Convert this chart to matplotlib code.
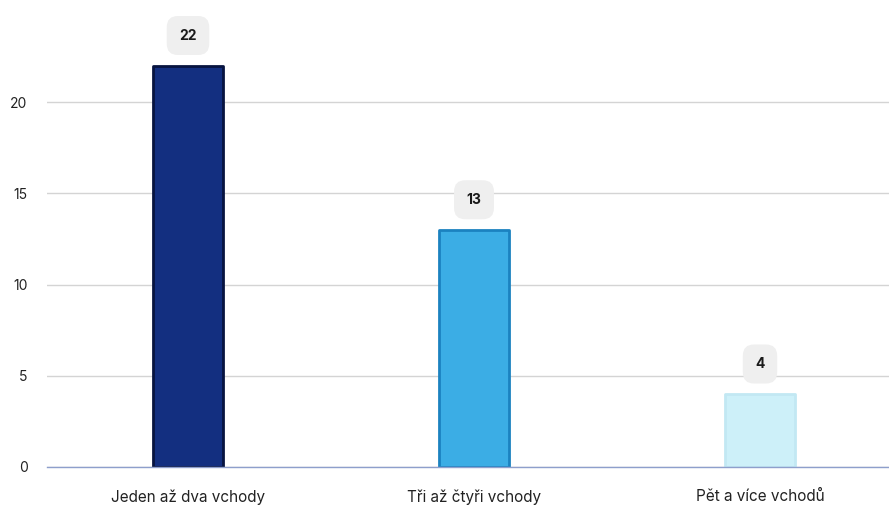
import matplotlib
matplotlib.use("Agg")
import matplotlib.pyplot as plt

categories = ["Jeden až dva vchody", "Tři až čtyři vchody", "Pět a více vchodů"]
values = [22, 13, 4]
yticks = [0, 5, 10, 15, 20]

face_colors = ["#132f80", "#3badE5", "#cdf0f9"]
edge_colors = ["#071440", "#1b82c0", "#c2e8f3"]

plt.rcParams['font.family'] = ['Inter', 'DejaVu Sans']

W, H = 889, 507
fig = plt.figure(figsize=(W / 100, H / 100), dpi=100)
ax_left = 47 / W
ax_bottom = 40 / H
ax_h = 25 * 18.25 / H
ax = fig.add_axes([ax_left, ax_bottom, 1 - ax_left, ax_h])

x = list(range(len(categories)))
bars = ax.bar(x, values, width=0.245, color=face_colors, edgecolor=edge_colors,
              linewidth=2, zorder=3)
for b in bars:
    b.set_joinstyle('round')

ax.set_xlim((47 - 188) / 286, (889 - 188) / 286)
ax.set_ylim(0, 25)
ax.set_yticks(yticks)
ax.set_yticklabels([str(t) for t in yticks])
ax.set_xticks(x)
ax.set_xticklabels(categories)
ax.tick_params(axis='both', length=0, labelsize=10, colors="#222222")
ax.tick_params(axis='x', labelsize=11, pad=16)
ax.tick_params(axis='y', pad=14)
ax.grid(axis='y', color="#d4d4d4", linewidth=1, zorder=0)
for s in ["top", "right", "left"]:
    ax.spines[s].set_visible(False)
ax.spines["bottom"].set_color("#8e9fcc")
ax.spines["bottom"].set_linewidth(1)
ax.spines["bottom"].set_zorder(4)

for xi, v in zip(x, values):
    ax.annotate(str(v), xy=(xi, v), xytext=(0, 30), textcoords="offset pixels",
                ha="center", va="center", fontsize=10, fontweight="bold",
                color="#1a1a1a", zorder=5, annotation_clip=False,
                bbox=dict(boxstyle="round,pad=0.9,rounding_size=0.8",
                          facecolor="#efefef", edgecolor="none"))

fig.savefig("out.png", dpi=100)
